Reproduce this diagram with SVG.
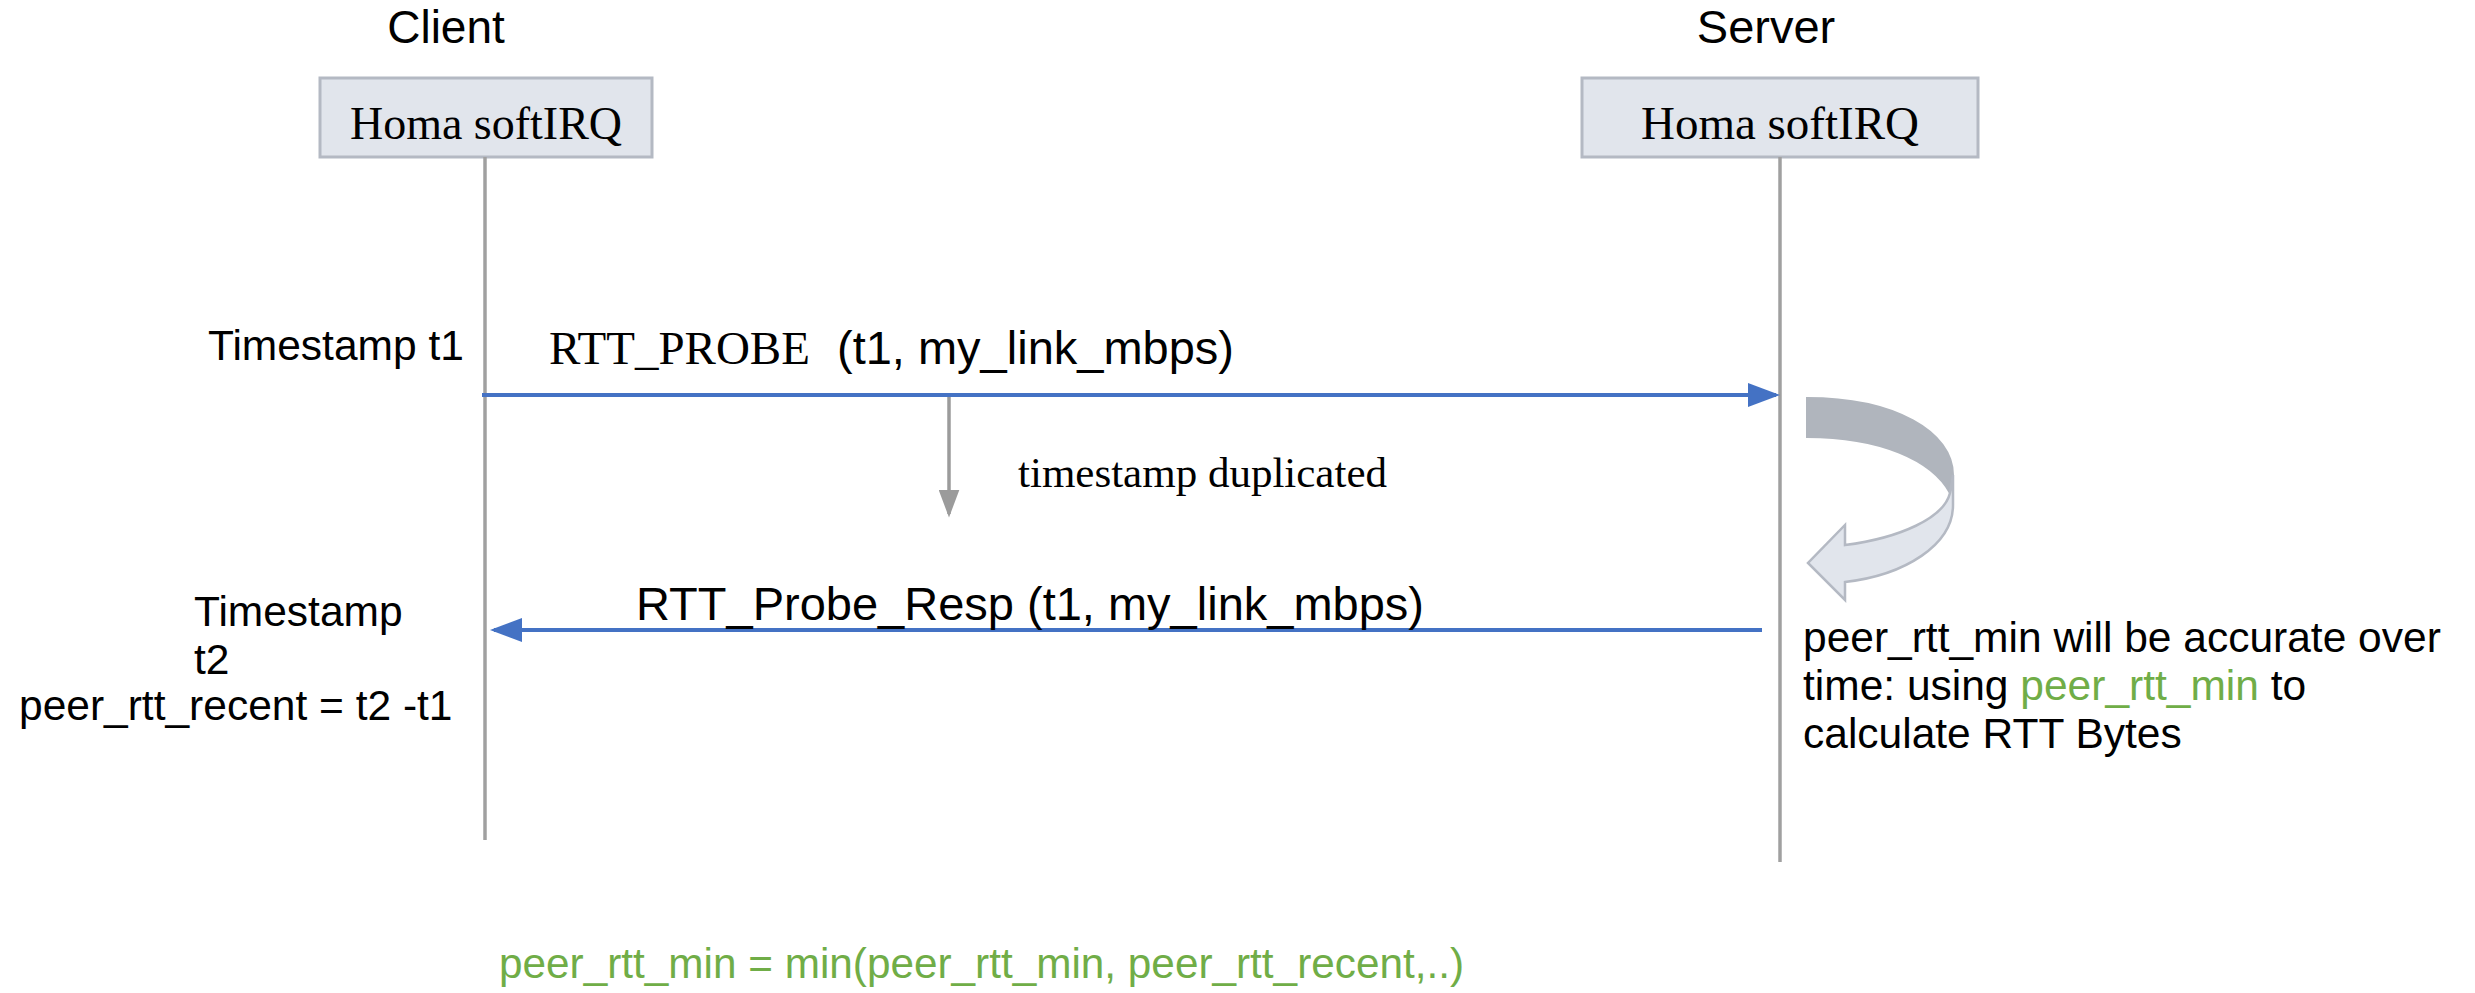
<svg xmlns="http://www.w3.org/2000/svg" width="2475" height="993" viewBox="0 0 2475 993">
<defs>
<style>
.sans{font-family:"Liberation Sans",Arial,sans-serif;fill:#000}
.serif{font-family:"Liberation Serif","Times New Roman",serif;fill:#000}
.box{fill:#e1e5ec;stroke:#b4b9c3;stroke-width:3}
.life{stroke:#a0a0a0;stroke-width:3.5;fill:none}
.msg{stroke:#4472c4;stroke-width:4;fill:none}
.green{fill:#70ad47}
</style>
<marker id="blueHead" markerWidth="8" markerHeight="6" refX="7" refY="3" orient="auto" markerUnits="strokeWidth">
<path d="M0,0 L8,3 L0,6 Z" fill="#4472c4"/>
</marker>
<marker id="grayHead" markerWidth="8" markerHeight="6" refX="7" refY="3" orient="auto" markerUnits="strokeWidth">
<path d="M0,0 L8,3 L0,6 Z" fill="#9b9b9b"/>
</marker>
</defs>
<rect width="2475" height="993" fill="#fff"/>

<g id="client">
<text class="sans" x="446" y="43" font-size="46" text-anchor="middle">Client</text>
<rect class="box" x="320" y="78" width="332" height="79"/>
<text class="serif" x="486" y="139" font-size="46" text-anchor="middle">Homa softIRQ</text>
</g>

<g id="server">
<text class="sans" x="1766" y="43" font-size="47" text-anchor="middle">Server</text>
<rect class="box" x="1582" y="78" width="396" height="79"/>
<text class="serif" x="1780" y="139" font-size="47" text-anchor="middle">Homa softIRQ</text>
</g>

<g id="connectors">
<line class="life" x1="485" y1="157" x2="485" y2="840"/>
<line class="life" x1="1780" y1="157" x2="1780" y2="862"/>
<line class="msg" x1="482" y1="395" x2="1776" y2="395" marker-end="url(#blueHead)"/>
<line stroke="#9b9b9b" stroke-width="3.5" x1="949" y1="397" x2="949" y2="514" marker-end="url(#grayHead)"/>
<line class="msg" x1="1762" y1="630" x2="494" y2="630" marker-end="url(#blueHead)"/>
</g>

<g id="uturn">
<path d="M1807,398 C1895,398 1953,432 1953,475 L1950,493 C1932,460 1880,437 1807,437 Z" fill="#b0b5bd" stroke="#b0b5bd" stroke-width="2"/>
<path d="M1953,475 L1953,505 C1953,545 1905,575 1845,582 L1845,600 L1808,563 L1845,525 L1845,545 C1900,538 1944,518 1950,493 Z" fill="#e1e5ec" stroke="#b4b9c3" stroke-width="2.5" stroke-linejoin="miter"/>
</g>

<g id="labels">
<text class="sans" x="208" y="360" font-size="42.5">Timestamp t1</text>
<text x="549" y="364" font-size="47"><tspan class="serif">RTT_PROBE</tspan><tspan class="sans" x="837">(t1, my_link_mbps)</tspan></text>
<text class="serif" x="1018" y="487" font-size="43">timestamp duplicated</text>
<text class="sans" x="636" y="620" font-size="47">RTT_Probe_Resp (t1, my_link_mbps)</text>
<text class="sans" x="194" y="626" font-size="42.5">Timestamp</text>
<text class="sans" x="194" y="674" font-size="42.5">t2</text>
<text class="sans" x="19" y="720" font-size="42.5">peer_rtt_recent = t2 -t1</text>
<text class="sans" x="1803" y="652" font-size="42.5">peer_rtt_min will be accurate over</text>
<text class="sans" x="1803" y="700" font-size="42.5">time: using <tspan class="green">peer_rtt_min</tspan> to</text>
<text class="sans" x="1803" y="748" font-size="42.5">calculate RTT Bytes</text>
<text class="sans green" x="499" y="978" font-size="42.3">peer_rtt_min = min(peer_rtt_min, peer_rtt_recent,..)</text>
</g>
</svg>
